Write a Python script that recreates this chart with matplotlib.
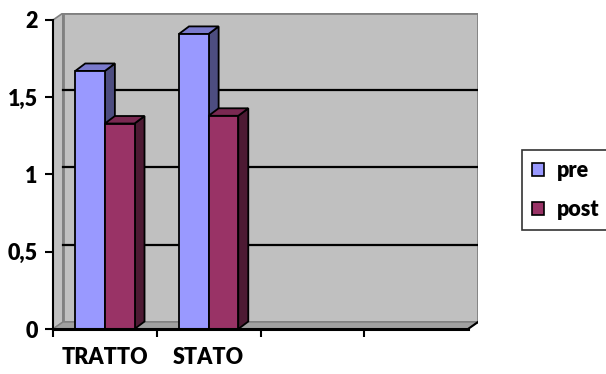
import matplotlib
matplotlib.use("Agg")
import matplotlib.pyplot as plt
from matplotlib.patches import Polygon, Rectangle, Patch

categories = ["TRATTO", "STATO", "", ""]
series_names = ["pre", "post"]
pre_values = [1.67, 1.91]
post_values = [1.33, 1.38]
yticks = [0, 0.5, 1, 1.5, 2]
ytick_labels = ["0", "0,5", "1", "1,5", "2"]

front_cols = ["#9999FF", "#993366"]
side_cols = ["#4D4D80", "#4D1A33"]
top_cols = ["#7A7ACC", "#7A2952"]

W, H = 606, 374
fig = plt.figure(figsize=(W / 100, H / 100), dpi=100)
plt.rcParams['font.family'] = ['Lato', 'DejaVu Sans']
FW = "heavy"
FS = 15.5

# axes pixel geometry
x0_px, x_front_end_px, x_back_end_px = 53, 468, 478
y0_px, y2_px, ytop_px = 329, 20, 13
ncat = len(categories)
ppx = (x_front_end_px - x0_px) / ncat
ppy = (y0_px - y2_px) / 2.0
ax = fig.add_axes([x0_px / W, 1 - y0_px / H, (x_back_end_px - x0_px) / W, (y0_px - ytop_px) / H])
ax.set_xlim(0, (x_back_end_px - x0_px) / ppx)
ax.set_ylim(0, (y0_px - ytop_px) / ppy)
ax.patch.set_visible(False)

wdx, wdy = 10 / ppx, 7 / ppy      # wall depth
bdx, bdy = 10 / ppx, 7.5 / ppy    # bar depth
ymax = 2.0

# walls
ax.add_patch(Polygon([(0, 0), (wdx, wdy), (wdx, ymax + wdy), (0, ymax)], closed=True,
                     facecolor="#C0C0C0", edgecolor="#808080", lw=1.2, zorder=0))
ax.add_patch(Rectangle((wdx, wdy), ncat, ymax, facecolor="#C0C0C0", edgecolor="#808080", lw=2, zorder=0))
ax.add_patch(Polygon([(0, 0), (ncat, 0), (ncat + wdx, wdy), (wdx, wdy)], closed=True,
                     facecolor="#A0A0A0", edgecolor="#808080", lw=1, zorder=1))
ax.plot([ncat, ncat + wdx], [0, wdy], color="black", lw=1.5, zorder=1)
for v in yticks[1:-1]:
    ax.plot([wdx, ncat + wdx], [v + wdy, v + wdy], color="black", lw=1.6, zorder=1)

# bars
gap = 1.5
bw = 1.0 / (2 + gap)
for si, vals in enumerate([pre_values, post_values]):
    for ci, v in enumerate(vals):
        left = ci + gap * bw / 2 + si * bw
        right = left + bw
        z = 3 + si * 2
        ax.add_patch(Polygon([(right, 0), (right + bdx, bdy), (right + bdx, v + bdy), (right, v)],
                             closed=True, facecolor=side_cols[si], edgecolor="black", lw=1.3, zorder=z))
        ax.add_patch(Polygon([(left, v), (left + bdx, v + bdy), (right + bdx, v + bdy), (right, v)],
                             closed=True, facecolor=top_cols[si], edgecolor="black", lw=1.3, zorder=z))
    lefts = [ci + gap * bw / 2 + si * bw for ci in range(len(vals))]
    ax.bar(lefts, vals, width=bw, align="edge", color=front_cols[si], edgecolor="black",
           lw=1.3, zorder=3 + si * 2 + 1)

# axes / ticks
for s in ["top", "right"]:
    ax.spines[s].set_visible(False)
ax.spines["left"].set_bounds(0, 2)
ax.spines["bottom"].set_bounds(0, ncat)
ax.spines["left"].set_linewidth(1.5)
ax.spines["bottom"].set_linewidth(2.2)
ax.spines["left"].set_zorder(10)
ax.spines["bottom"].set_zorder(10)
ax.set_yticks(yticks)
ax.set_yticklabels(ytick_labels, fontsize=FS, fontweight=FW)
ax.tick_params(axis="y", length=6, width=1.5, pad=5)
ax.set_xticks(range(ncat))
ax.set_xticklabels([])
ax.tick_params(axis="x", which="major", length=6, width=1.5)
ax.set_xticks([i + 0.5 for i in range(ncat)], minor=True)
ax.set_xticklabels(categories, minor=True, fontsize=FS, fontweight=FW)
ax.tick_params(axis="x", which="minor", length=0, pad=13)

handles = [Patch(facecolor=front_cols[i], edgecolor="black", lw=1.2, label=series_names[i]) for i in range(2)]
leg = fig.legend(handles=handles, loc="upper left", bbox_to_anchor=(522 / W, 1 - 150 / H),
                 prop={"size": FS, "weight": FW}, frameon=True, fancybox=False,
                 handlelength=0.55, handleheight=0.55, handletextpad=0.6, borderpad=0.45,
                 labelspacing=0.85, borderaxespad=0)
leg.get_frame().set_edgecolor("black")
leg.get_frame().set_linewidth(1.2)

fig.savefig("out.png", dpi=100)
